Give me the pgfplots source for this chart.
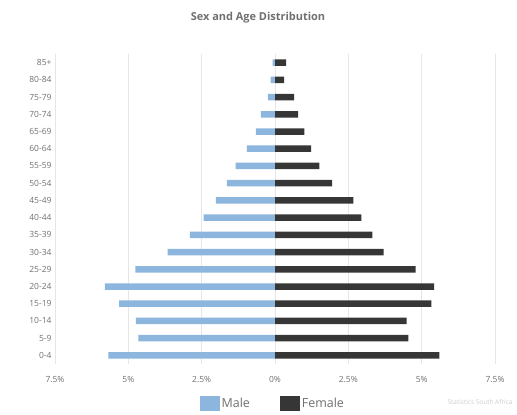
\documentclass[border=0pt]{standalone}
\usepackage{pgfplots}
\pgfplotsset{compat=1.18}
\usepackage{fontspec}
\setmainfont{Open Sans}
\definecolor{maleblue}{HTML}{8DB6DE}
\definecolor{femalegray}{HTML}{363636}
\definecolor{txtgray}{HTML}{707070}
\definecolor{gridgray}{HTML}{E6E6E6}
\pgfplotstableread{
idx male female
0  -5.68 5.60
1  -4.66 4.55
2  -4.74 4.49
3  -5.31 5.33
4  -5.80 5.42
5  -4.76 4.79
6  -3.66 3.70
7  -2.90 3.32
8  -2.43 2.94
9  -2.02 2.67
10 -1.64 1.95
11 -1.34 1.51
12 -0.96 1.23
13 -0.65 1.00
14 -0.48 0.79
15 -0.24 0.65
16 -0.15 0.31
17 -0.08 0.38
}\pyramid
\begin{document}
\begin{tikzpicture}[x=1bp,y=1bp]
\path[use as bounding box] (0,0) rectangle (517,414);
\node[text=txtgray, font=\fontsize{11}{13}\selectfont\bfseries] at (258,396) {Sex and Age Distribution};
\begin{axis}[
  at={(55bp,50bp)}, anchor=south west,
  scale only axis, width=440bp, height=310bp,
  xmin=-7.5, xmax=7.5,
  ymin=-0.5, ymax=17.5,
  axis line style={draw=none},
  major tick length=0pt,
  xtick={-7.5,-5,-2.5,0,2.5,5,7.5},
  xticklabels={7.5\%,5\%,2.5\%,0\%,2.5\%,5\%,7.5\%},
  ytick={0,...,17},
  yticklabels={0-4,5-9,10-14,15-19,20-24,25-29,30-34,35-39,40-44,45-49,50-54,55-59,60-64,65-69,70-74,75-79,80-84,85+},
  xmajorgrids, major grid style={gridgray, line width=0.6pt},
  tick label style={text=txtgray, font=\fontsize{8.5}{10}\selectfont},
  xticklabel style={yshift=-9bp},
  /pgf/number format/assume math mode=true,
  xbar, bar width=6.5bp, bar shift=0pt,
  legend style={at={(0.495,-0.127)}, anchor=center, draw=none, legend columns=2,
    font=\fontsize{12.5}{14}\selectfont, text=txtgray,
    /tikz/every even column/.append style={column sep=28bp}},
  legend image code/.code={\fill[#1] (-6bp,-7bp) rectangle (14bp,8bp);},
]
\addplot[draw=none, fill=maleblue] table[x=male, y=idx] {\pyramid};
\addplot[draw=none, fill=femalegray] table[x=female, y=idx] {\pyramid};
\legend{Male, Female}
\end{axis}
\node[text=gray!40, font=\fontsize{6.5}{8}\selectfont, anchor=east] at (516,12) {Statistics South Africa};
\end{tikzpicture}
\end{document}
